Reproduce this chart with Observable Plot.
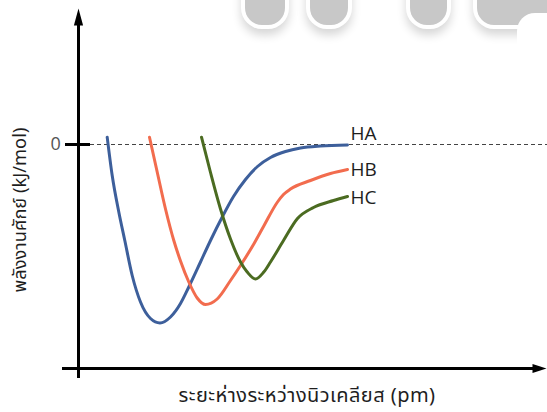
<!DOCTYPE html>
<html><head><meta charset="utf-8">
<script src="https://cdn.jsdelivr.net/npm/d3@7"></script>
<script src="https://cdn.jsdelivr.net/npm/@observablehq/plot@0.6"></script>
<style>
body{margin:0;background:#fff;}
#wrap{position:relative;width:547px;height:412px;overflow:hidden;}
.wm{position:absolute;background:#c8c8c8;border-radius:0 0 17px 17px;box-shadow:0 0 0 4px #fff, 0 6px 10px 4px rgba(0,0,0,0.16);pointer-events:none;}
</style></head><body>
<div id="wrap"></div>
<script>
// Series
const series = ["HA", "HB", "HC"];
const colors = ["#3d5f9b", "#f26c4e", "#4b6b21"];
// internuclear distance (pm, arbitrary origin) and potential energy (kJ/mol, arbitrary scale)
const haX = [28.7, 33.7, 40.3, 46.3, 53.7, 62, 72, 81.5, 92, 102, 110.3, 122, 132, 144, 155, 167, 179, 192, 207, 222, 242, 269];
const haY = [14.6, -62, -135, -192, -262, -315, -348, -357, -345, -318, -285, -235, -192, -144, -104, -70, -44, -26, -14, -7, -3, -1];
const hbX = [71, 78.7, 87, 95.3, 102, 110.3, 118.7, 127, 138.7, 152, 162, 175.3, 185.3, 199, 205, 212, 232, 252, 269];
const hbY = [14.6, -55, -129, -192, -233, -275, -307, -320, -309, -272, -242, -199, -163, -115, -100, -89, -72, -58, -50];
const hcX = [123, 132, 142, 152, 162, 168.7, 177, 185.3, 192, 205, 219, 235, 255, 269];
const hcY = [14.6, -56, -129, -189, -235, -255, -269, -255, -235, -192, -148, -126, -112, -104];
const zeroTick = [0];
const yLabel = "พลังงานศักย์ (kJ/mol)";
const xLabel = "ระยะห่างระหว่างนิวเคลียส (pm)";

const xs = [haX, hbX, hcX], ys = [haY, hbY, hcY];
const rows = [];
series.forEach((s, i) => xs[i].forEach((x, j) => rows.push({series: s, x, y: ys[i][j]})));

const xDomain = [0, 469], yDomain = [-448, 272];
const arrowUp = {draw(ctx) { ctx.moveTo(0, 0); ctx.lineTo(4.6, 17); ctx.lineTo(-4.6, 17); ctx.closePath(); }};
const arrowRight = {draw(ctx) { ctx.moveTo(0, 0); ctx.lineTo(-14, 4.4); ctx.lineTo(-14, -4.4); ctx.closePath(); }};

const latin = "'Open Sans', 'Noto Sans Thai', 'Noto Sans', sans-serif";
const thai = "'Noto Sans Thai', 'Open Sans', 'Noto Sans', sans-serif";

const labelMarks = series.map((s, i) => {
  const n = xs[i].length - 1;
  return Plot.text([{x: xs[i][n], y: ys[i][n], t: s}], {
    x: "x", y: "y", text: "t", dx: 3, dy: [-11, 0, 1][i], textAnchor: "start",
    fontSize: 19, fill: "#1e1e1e", fontFamily: latin
  });
});

const plot = Plot.plot({
  width: 547, height: 412,
  marginLeft: 78, marginRight: 0, marginTop: 8, marginBottom: 44,
  x: {domain: xDomain, axis: null},
  y: {domain: yDomain, axis: null},
  color: {domain: series, range: colors},
  style: {background: "white", fontFamily: latin},
  marks: [
    Plot.ruleY(zeroTick, {y: d => d, x1: 12, x2: xDomain[1], stroke: "#444", strokeWidth: 1.2, strokeDasharray: "4,3"}),
    Plot.line(rows, {x: "x", y: "y", z: "series", stroke: "series", strokeWidth: 3, curve: "monotone-x"}),
    // axes
    Plot.ruleX([0], {x: d => d, y1: yDomain[0] - 20, y2: yDomain[1] - 20, stroke: "black", strokeWidth: 3}),
    Plot.dot([0], {x: d => d, y: yDomain[1], symbol: arrowUp, fill: "black"}),
    Plot.ruleY([yDomain[0]], {y: d => d, x1: -16, x2: xDomain[1] - 12, stroke: "black", strokeWidth: 3}),
    Plot.dot([yDomain[0]], {x: xDomain[1] - 1, y: d => d, symbol: arrowRight, fill: "black"}),
    Plot.ruleY(zeroTick, {y: d => d, x1: -13, x2: 12, stroke: "black", strokeWidth: 3}),
    Plot.text(zeroTick, {y: d => d, text: d => String(d), frameAnchor: "left", dx: -28, fontSize: 18, fill: "#555"}),
    // axis titles
    Plot.text([yLabel], {text: d => d, frameAnchor: "left", rotate: -90, textAnchor: "start", dx: -58, dy: 104, fontSize: 18.3, fill: "#1e1e1e", fontFamily: thai}),
    Plot.text([xLabel], {text: d => d, frameAnchor: "bottom-left", textAnchor: "start", dx: 100, dy: 33, fontSize: 20, fill: "#1e1e1e", fontFamily: thai}),
    ...labelMarks
  ]
});
d3.select(plot).selectAll("text").filter(function () { return this.textContent === xLabel; }).style("letter-spacing", "0.45px");
const wrap = document.getElementById("wrap");
wrap.appendChild(plot);
// watermark
[[245, 40, 25], [310, 38, 25], [410, 37, 25], [477, 80, 25]].forEach(([l, w, b]) => {
  const d = document.createElement("div");
  d.className = "wm";
  d.style.left = l + "px"; d.style.width = w + "px"; d.style.top = (b - 60) + "px"; d.style.height = "60px";
  if (l === 477) d.style.borderRadius = "0 0 0 17px";
  wrap.appendChild(d);
});
const notch = document.createElement("div");
notch.style.cssText = "position:absolute;left:517px;top:13px;width:60px;height:40px;background:#fff;border-radius:18px 0 0 0;pointer-events:none;";
wrap.appendChild(notch);
</script>
</body></html>
